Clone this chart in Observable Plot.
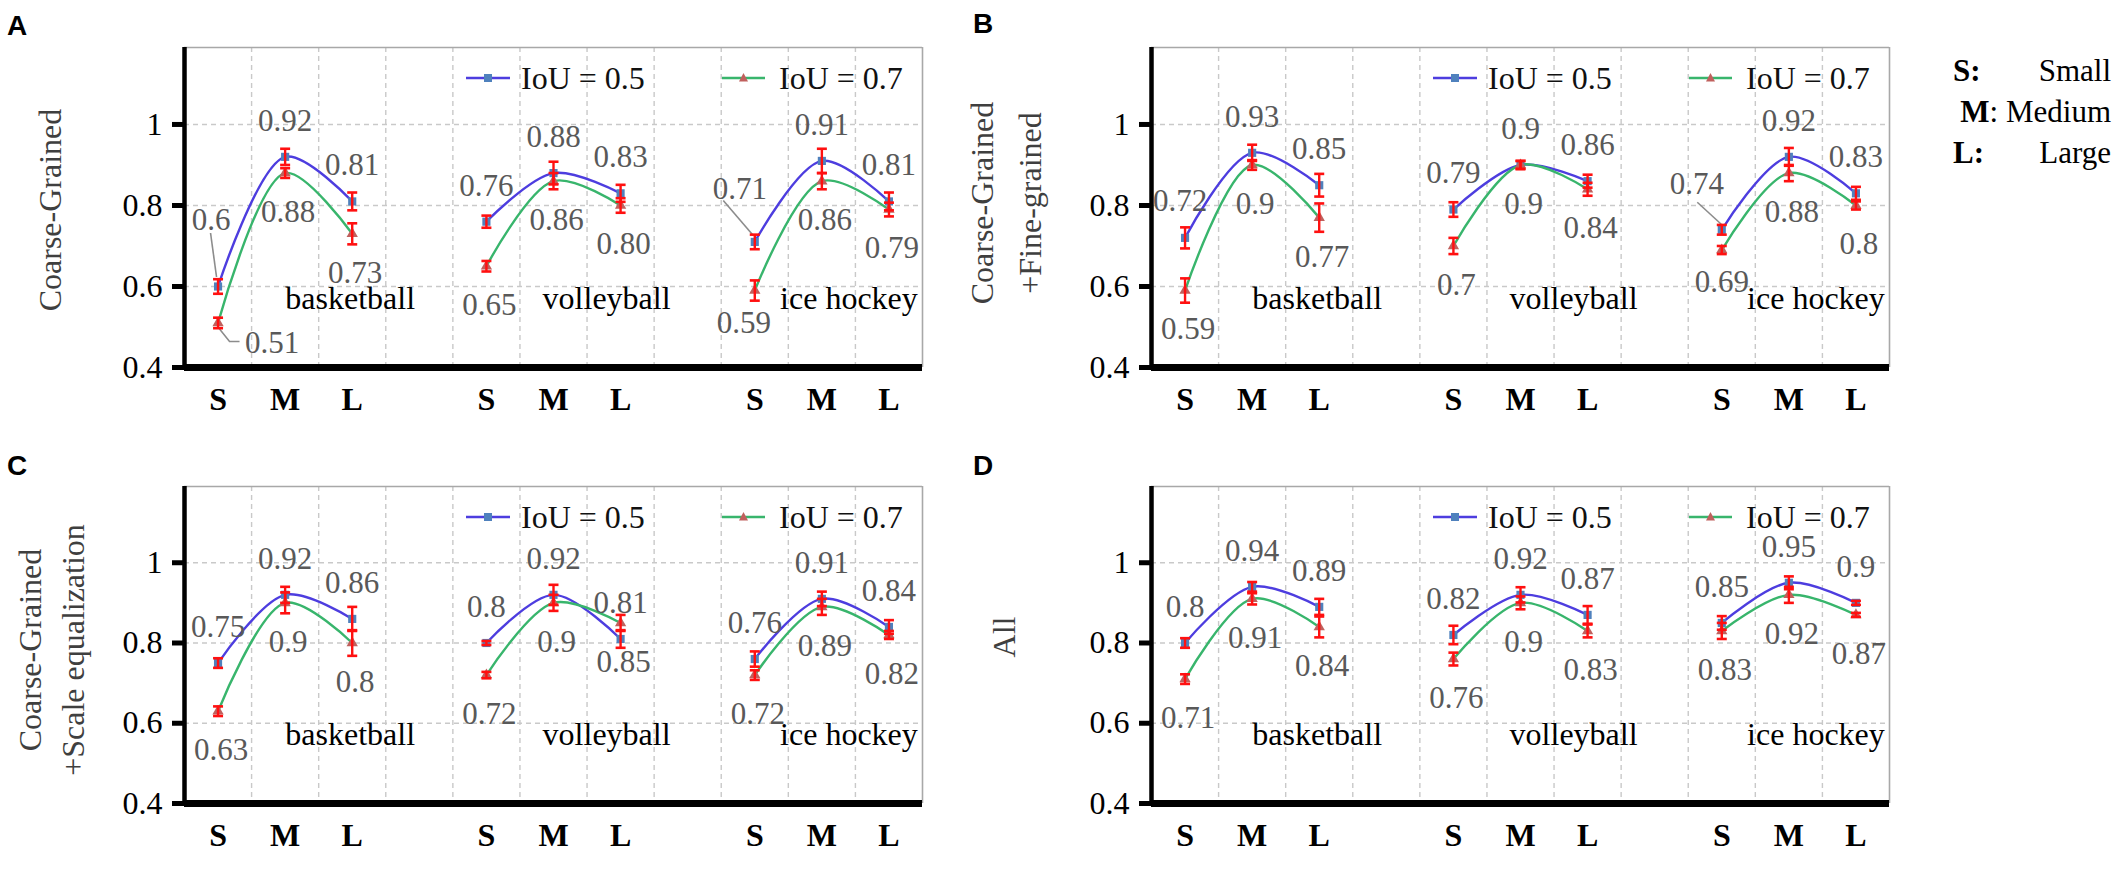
<!DOCTYPE html>
<html><head><meta charset="utf-8">
<script src="https://cdn.jsdelivr.net/npm/d3@7"></script>
<script src="https://cdn.jsdelivr.net/npm/@observablehq/plot@0.6"></script>
<style>
html,body{margin:0;padding:0;background:#fff;}
#root{position:relative;width:2126px;height:873px;overflow:hidden;background:#fff;}
.panel{position:absolute;}
#overlay{position:absolute;left:0;top:0;pointer-events:none;}
</style></head><body><div id="root"></div>
<script>
// ---------- data ----------
const sports = ["basketball", "volleyball", "ice hockey"];
const sizes = ["S", "M", "L"];
const seriesNames = ["IoU = 0.5", "IoU = 0.7"];
const panelLetters = ["A", "B", "C", "D"];
const panelTitles = [["Coarse-Grained"], ["Coarse-Grained", "+Fine-grained"], ["Coarse-Grained", "+Scale equalization"], ["All"]];
const yTicks = [0.4, 0.6, 0.8, 1];
const sizeLegend = [["S:", "Small"], ["M", ": Medium"], ["L:", "Large"]];

// values per panel (basketball S,M,L | volleyball S,M,L | ice hockey S,M,L)
const iou05A = ["0.6", "0.92", "0.81", "0.76", "0.88", "0.83", "0.71", "0.91", "0.81"];
const iou07A = ["0.51", "0.88", "0.73", "0.65", "0.86", "0.80", "0.59", "0.86", "0.79"];
const err05A = [0.018, 0.02, 0.022, 0.015, 0.028, 0.021, 0.018, 0.03, 0.022];
const err07A = [0.013, 0.012, 0.026, 0.013, 0.02, 0.018, 0.025, 0.02, 0.017];

const iou05B = ["0.72", "0.93", "0.85", "0.79", "0.9", "0.86", "0.74", "0.92", "0.83"];
const iou07B = ["0.59", "0.9", "0.77", "0.7", "0.9", "0.84", "0.69", "0.88", "0.8"];
const err05B = [0.026, 0.02, 0.028, 0.018, 0.01, 0.016, 0.012, 0.022, 0.016];
const err07B = [0.03, 0.012, 0.035, 0.02, 0.01, 0.016, 0.01, 0.02, 0.01];

const iou05C = ["0.75", "0.92", "0.86", "0.8", "0.92", "0.81", "0.76", "0.91", "0.84"];
const iou07C = ["0.63", "0.9", "0.8", "0.72", "0.9", "0.85", "0.72", "0.89", "0.82"];
const err05C = [0.012, 0.02, 0.03, 0.005, 0.025, 0.022, 0.019, 0.018, 0.017];
const err07C = [0.012, 0.026, 0.032, 0.008, 0.02, 0.02, 0.012, 0.02, 0.01];

const iou05D = ["0.8", "0.94", "0.89", "0.82", "0.92", "0.87", "0.85", "0.95", "0.9"];
const iou07D = ["0.71", "0.91", "0.84", "0.76", "0.9", "0.83", "0.83", "0.92", "0.87"];
const err05D = [0.012, 0.012, 0.02, 0.023, 0.019, 0.022, 0.017, 0.016, 0.005];
const err07D = [0.012, 0.014, 0.026, 0.016, 0.016, 0.016, 0.02, 0.02, 0.005];

// ---------- label placement (pixel nudges) ----------
const defaultNudge = [[0, -36], [3, 39]];
const nudgeExceptions = {
  "A-0-0": [-7, -66], "A-1-0": [54, 20], "A-0-6": [-15, -53], "A-1-6": [-11, 33],
  "B-0-0": [-5, -37], "B-0-6": [-25, -46], "B-1-6": [0, 32]
};
const leaderLines = {
  "A-0-0": [[-7, -53], [-1, -9]],
  "A-1-0": [[0, 4], [12, 19], [22, 19]],
  "A-0-6": [[-31, -41], [-1, -6]],
  "B-0-6": [[-24, -27], [0, -5]]
};
const sportLabelDx = [-2, -14, -40];

// ---------- styles ----------
const FONT = "'Liberation Serif', 'Times New Roman', serif";
const BLUE_LINE = "#4d3ddf", BLUE_MARK = "#4f81bd";
const GREEN_LINE = "#38b56c", RED_MARK = "#c0605d";
const ERR = "#ff1010", GRID = "#c9c9c9", LABEL = "#595959";
const YMAX = 1.19;

const capSymbol = { draw(ctx, size) { const r = Math.sqrt(size / Math.PI); ctx.moveTo(-r, 0); ctx.lineTo(r, 0); } };

function buildPanel(letter, v05, v07, e05, e07, top) {
  const rows = [];
  [v05, v07].forEach((arr, si) => arr.forEach((s, i) => {
    const g = Math.floor(i / 3), k = i % 3;
    rows.push({ series: si, xi: g * 4 + k, v: +s, label: s, err: (si ? e07 : e05)[i], key: si + "-" + g, id: letter + "-" + si + "-" + i });
  }));
  const s0 = rows.filter(d => d.series === 0), s1 = rows.filter(d => d.series === 1);
  const ticks = [];
  sports.forEach((sp, g) => sizes.forEach((sz, k) => ticks.push({ xi: g * 4 + k, t: sz })));
  const sportRows = sports.map((sp, g) => ({ xi: g * 4 + 2, t: sp, g }));

  const labelMarks = rows.map(d => {
    const n = nudgeExceptions[d.id] || defaultNudge[d.series];
    return Plot.text([d], { x: "xi", y: "v", text: "label", dx: n[0], dy: n[1], fill: LABEL, fontSize: 31, fontFamily: FONT });
  });

  const leaderMark = (index, scales) => {
    const g = d3.create("svg:g");
    rows.forEach(d => {
      const L = leaderLines[d.id];
      if (!L) return;
      const px = scales.x(d.xi), py = scales.y(d.v);
      g.append("path").attr("d", d3.line()(L.map(p => [px + p[0], py + p[1]])))
        .attr("fill", "none").attr("stroke", "#8c8c8c").attr("stroke-width", 1.6);
    });
    return g.node();
  };

  const legendMark = (index, scales, values, dim) => {
    const g = d3.create("svg:g");
    const L = dim.marginLeft, T = dim.marginTop + 31;
    const items = [
      { x0: 282, x1: 326, tx: 337, line: BLUE_LINE, mark: "sq", name: seriesNames[0] },
      { x0: 538, x1: 581, tx: 595, line: GREEN_LINE, mark: "tri", name: seriesNames[1] }
    ];
    items.forEach(it => {
      g.append("line").attr("x1", L + it.x0).attr("x2", L + it.x1).attr("y1", T).attr("y2", T)
        .attr("stroke", it.line).attr("stroke-width", 2.6);
      const cx = L + (it.x0 + it.x1) / 2;
      if (it.mark === "sq") g.append("rect").attr("x", cx - 4).attr("y", T - 4).attr("width", 8).attr("height", 8).attr("fill", BLUE_MARK);
      else g.append("path").attr("d", `M${cx},${T - 5}L${cx + 4.5},${T + 3.5}L${cx - 4.5},${T + 3.5}Z`).attr("fill", RED_MARK);
      g.append("text").attr("x", L + it.tx).attr("y", T).attr("dy", "0.35em").attr("text-anchor", "start")
        .attr("font-family", FONT).attr("font-size", 32).attr("fill", "#111").text(it.name);
    });
    return g.node();
  };

  const marginTop = top ? 47 : 56;
  const height = top ? 430 : 443;
  const marginBottom = top ? 63 : 70;

  return Plot.plot({
    width: 952, height, marginLeft: 184, marginRight: 30, marginTop, marginBottom,
    style: { fontFamily: FONT, fontSize: "32px", background: "transparent", overflow: "visible" },
    x: { domain: [-0.5, 10.5], axis: null },
    y: { domain: [0.4, YMAX], axis: null },
    marks: [
      Plot.ruleX(d3.range(0.5, 10, 1), { stroke: GRID, strokeDasharray: "5,4", strokeWidth: 1.4 }),
      Plot.ruleY([0.6, 0.8, 1], { stroke: GRID, strokeDasharray: "5,4", strokeWidth: 1.6 }),
      Plot.ruleY([YMAX], { stroke: "#a8a8a8", strokeWidth: 1.6 }),
      Plot.ruleX([10.5], { stroke: "#a8a8a8", strokeWidth: 1.6 }),
      Plot.axisY({ ticks: yTicks, tickFormat: d => String(d), label: null, tickSize: 12, tickPadding: 10, strokeWidth: 5, fontSize: 32, fill: "#000", stroke: "#000" }),
      Plot.ruleX([-0.5], { stroke: "#000", strokeWidth: 4.5 }),
      Plot.ruleY([0.4], { stroke: "#000", strokeWidth: 7 }),
      Plot.text(ticks, { x: "xi", text: "t", frameAnchor: "bottom", dy: 42, fontWeight: "bold", fontSize: 32, fill: "#000", fontFamily: FONT }),
      ...sportRows.map(d => Plot.text([d], { x: "xi", text: "t", frameAnchor: "bottom", dy: -59, dx: sportLabelDx[d.g], fontSize: 32, fill: "#000", fontFamily: FONT })),
      leaderMark,
      Plot.line(s0, { x: "xi", y: "v", z: "key", stroke: BLUE_LINE, strokeWidth: 2.4, curve: "catmull-rom" }),
      Plot.line(s1, { x: "xi", y: "v", z: "key", stroke: GREEN_LINE, strokeWidth: 2.4, curve: "catmull-rom" }),
      Plot.dot(s0, { x: "xi", y: "v", symbol: "square", r: 4.6, fill: BLUE_MARK }),
      Plot.dot(s1, { x: "xi", y: "v", symbol: "triangle", r: 4.2, fill: RED_MARK }),
      Plot.ruleX(rows, { x: "xi", y1: d => d.v - d.err, y2: d => d.v + d.err, stroke: ERR, strokeWidth: 2.4 }),
      Plot.dot(rows, { x: "xi", y: d => d.v - d.err, symbol: capSymbol, r: 5, stroke: ERR, strokeWidth: 2.6, fill: "none" }),
      Plot.dot(rows, { x: "xi", y: d => d.v + d.err, symbol: capSymbol, r: 5, stroke: ERR, strokeWidth: 2.6, fill: "none" }),
      ...labelMarks,
      legendMark
    ]
  });
}

const root = document.getElementById("root");
const specs = [
  { L: "A", a: iou05A, b: iou07A, ea: err05A, eb: err07A, left: 0, top: 0, isTop: true },
  { L: "B", a: iou05B, b: iou07B, ea: err05B, eb: err07B, left: 967, top: 0, isTop: true },
  { L: "C", a: iou05C, b: iou07C, ea: err05C, eb: err07C, left: 0, top: 430, isTop: false },
  { L: "D", a: iou05D, b: iou07D, ea: err05D, eb: err07D, left: 967, top: 430, isTop: false }
];
specs.forEach(s => {
  const div = document.createElement("div");
  div.className = "panel";
  div.style.left = s.left + "px";
  div.style.top = s.top + "px";
  div.appendChild(buildPanel(s.L, s.a, s.b, s.ea, s.eb, s.isTop));
  root.appendChild(div);
});

// ---------- overlay: panel letters, axis titles, size legend ----------
const ov = d3.select(root).append("svg").attr("id", "overlay").attr("width", 2126).attr("height", 873);
const letterPos = [[17, 25], [983, 23], [17, 465], [983, 465]];
panelLetters.forEach((t, i) => {
  ov.append("text").attr("x", letterPos[i][0]).attr("y", letterPos[i][1]).attr("text-anchor", "middle")
    .attr("dy", "0.36em").attr("font-family", "'Liberation Sans', Arial, sans-serif").attr("font-weight", "bold")
    .attr("font-size", 28).attr("fill", "#000").text(t);
});
const titlePos = [[[50], 210], [[982, 1030], 203], [[30, 73], 650], [[1004], 637]];
panelTitles.forEach((lines, i) => {
  const [xs, cy] = titlePos[i];
  lines.forEach((ln, j) => {
    ov.append("text").attr("transform", `translate(${xs[j]},${cy}) rotate(-90)`).attr("text-anchor", "middle")
      .attr("dy", "0.35em").attr("font-family", FONT).attr("font-size", 32).attr("fill", "#3f3f3f").text(ln);
  });
});
const legY = [70, 111, 152];
sizeLegend.forEach((pair, i) => {
  if (i === 1) {
    const t = ov.append("text").attr("x", 2111).attr("y", legY[i]).attr("dy", "0.35em").attr("text-anchor", "end")
      .attr("font-family", FONT).attr("font-size", 31).attr("fill", "#000");
    t.append("tspan").attr("font-weight", "bold").text(pair[0]);
    t.append("tspan").text(pair[1]);
  } else {
    ov.append("text").attr("x", 1953).attr("y", legY[i]).attr("dy", "0.35em").attr("font-family", FONT)
      .attr("font-weight", "bold").attr("font-size", 31).attr("fill", "#000").text(pair[0]);
    ov.append("text").attr("x", 2111).attr("y", legY[i]).attr("dy", "0.35em").attr("text-anchor", "end")
      .attr("font-family", FONT).attr("font-size", 31).attr("fill", "#000").text(pair[1]);
  }
});
</script></body></html>
